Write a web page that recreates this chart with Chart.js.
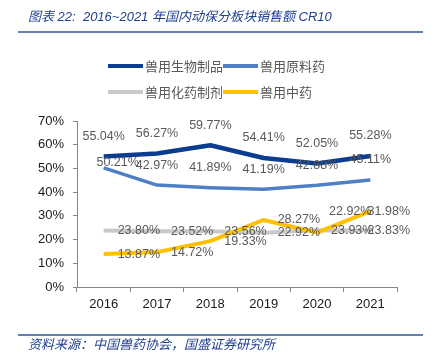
<!DOCTYPE html>
<html>
<head>
<meta charset="utf-8">
<script src="https://cdn.jsdelivr.net/npm/chart.js@4/dist/chart.umd.min.js"></script>
<style>
  body { margin: 0; background: #fff; }
  #wrap { width: 434px; height: 361px; position: relative; }
</style>
</head>
<body>
<div id="wrap"><canvas id="cr10Chart"></canvas></div>
<script>
// chart data
const years = ["2016", "2017", "2018", "2019", "2020", "2021"];
const seriesNames = ["兽用生物制品", "兽用原料药", "兽用化药制剂", "兽用中药"];
const bioProducts = [55.04, 56.27, 59.77, 54.41, 52.05, 55.28];
const rawMaterials = [50.21, 42.97, 41.89, 41.19, 42.88, 45.11];
const chemPreparations = [23.80, 23.52, 23.56, 22.92, 23.93, 23.83];
const tcmProducts = [13.87, 14.72, 19.33, 28.27, 22.92, 31.98];
const yMax = 70;
const yStep = 10;

const titleText = "图表 22:  2016~2021 年国内动保分板块销售额 CR10";
const sourceText = "资料来源：中国兽药协会，国盛证券研究所";

const colors = ["#0A3C8F", "#4E80C6", "#C9C9C9", "#FFC000"];
// where each series puts its value labels
const labelMode = ["above", "above", "right", "right"];

// title, rules, footer and the two-row legend
const decorPlugin = {
  id: "decor",
  afterDraw(chart) {
    const ctx = chart.ctx;
    ctx.save();
    ctx.fillStyle = "#1F3F8F";
    ctx.font = "italic 13px 'Liberation Sans', 'Noto Sans CJK SC', sans-serif";
    ctx.textBaseline = "middle";
    ctx.textAlign = "left";
    ctx.fillText(titleText, 28, 17);
    ctx.font = "italic 13px 'Liberation Sans', 'Noto Sans CJK SC', sans-serif";
    ctx.fillText(sourceText, 28, 345);

    ctx.strokeStyle = "#2F5597";
    ctx.lineWidth = 1.5;
    ctx.beginPath();
    ctx.moveTo(18, 32);
    ctx.lineTo(423, 32);
    ctx.moveTo(18, 335);
    ctx.lineTo(423, 335);
    ctx.stroke();

    // legend
    ctx.font = "13px 'Noto Sans CJK SC', sans-serif";
    ctx.fillStyle = "#595959";
    chart.data.datasets.forEach((ds, i) => {
      const x = i % 2 === 0 ? 108 : 223;
      const y = i < 2 ? 66 : 92;
      ctx.strokeStyle = ds.borderColor;
      ctx.lineWidth = 4;
      ctx.beginPath();
      ctx.moveTo(x, y);
      ctx.lineTo(x + 35, y);
      ctx.stroke();
      ctx.fillText(ds.label, x + 37, y);
    });
    ctx.restore();
  },
};

// value labels
const valueLabels = {
  id: "valueLabels",
  afterDatasetsDraw(chart) {
    const ctx = chart.ctx;
    const right = chart.chartArea.right + 13;
    ctx.save();
    ctx.font = "12.5px 'Liberation Sans', Arial, sans-serif";
    ctx.fillStyle = "#595959";
    ctx.textBaseline = "middle";
    chart.data.datasets.forEach((ds, di) => {
      const meta = chart.getDatasetMeta(di);
      meta.data.forEach((pt, i) => {
        const txt = ds.data[i].toFixed(2) + "%";
        const w = ctx.measureText(txt).width;
        let left, y;
        if (labelMode[di] === "above") {
          left = pt.x - w / 2;
          y = pt.y - 20;
          if (di === 1 && i === 0) { left = pt.x + 14 - w / 2; y = pt.y - 5; }
        } else {
          left = pt.x + 14;
          y = pt.y;
          if (di === 3 && i === 4) { left = pt.x + 12; y = pt.y - 21; }
        }
        if (left + w > right) left = right - w;
        ctx.textAlign = "left";
        ctx.fillText(txt, left, y);
      });
    });
    ctx.restore();
  },
};

const ctxCr10 = document.getElementById("cr10Chart").getContext("2d");
const cr10Chart = new Chart(ctxCr10, {
  type: "line",
  data: {
    labels: years,
    datasets: [
      { label: seriesNames[0], data: bioProducts, borderColor: colors[0], borderWidth: 4.5 },
      { label: seriesNames[1], data: rawMaterials, borderColor: colors[1], borderWidth: 3.5 },
      { label: seriesNames[2], data: chemPreparations, borderColor: colors[2], borderWidth: 4, order: 1 },
      { label: seriesNames[3], data: tcmProducts, borderColor: colors[3], borderWidth: 4 },
    ],
  },
  options: {
    responsive: true,
    maintainAspectRatio: false,
    animation: false,
    layout: { padding: { left: 0, top: 121, right: 37, bottom: 44 } },
    elements: {
      point: { radius: 0, hoverRadius: 0 },
      line: { tension: 0, fill: false, borderCapStyle: "butt", borderJoinStyle: "round" },
    },
    plugins: {
      legend: { display: false },
      tooltip: { enabled: false },
    },
    scales: {
      x: {
        offset: true,
        afterFit: (s) => { s.height = 30; },
        grid: { offset: true, drawOnChartArea: false, drawTicks: true, tickLength: 5, color: "#868686" },
        border: { color: "#868686", width: 1 },
        ticks: { color: "#1a1a1a", font: { size: 13, family: "'Liberation Sans', Arial" }, padding: 5, maxRotation: 0 },
      },
      y: {
        min: 0,
        max: yMax,
        afterFit: (s) => { s.width = 77; },
        grid: { drawOnChartArea: false, drawTicks: true, tickLength: 4, color: "#868686" },
        border: { color: "#868686", width: 1 },
        ticks: {
          stepSize: yStep,
          color: "#1a1a1a",
          font: { size: 13, family: "'Liberation Sans', Arial" },
          padding: 9,
          callback: (v) => v + "%",
        },
      },
    },
  },
  plugins: [valueLabels, decorPlugin],
});
</script>
</body>
</html>
